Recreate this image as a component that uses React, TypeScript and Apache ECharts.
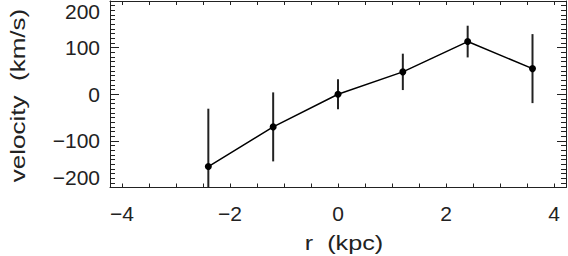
import React, { useEffect, useRef } from "react";
import * as echarts from "echarts";

// ---- data ----
const rValues = [-2.4, -1.2, 0, 1.2, 2.4, 3.6]; // kpc
const velocity = [-155, -70, 0, 48, 113, 55]; // km/s
const velocityErr = [124, 74, 32, 39, 34, 74]; // km/s
const xTickLabels = [-4, -2, 0, 2, 4];
const xTicks = [-4, -3.5, -3, -2.5, -2, -1.5, -1, -0.5, 0, 0.5, 1, 1.5, 2, 2.5, 3, 3.5, 4];
const xRange = [-4.22, 4.22];
const yRange = [-200, 200];
const yInterval = 100;
const xTitle = "r  (kpc)";
const yTitle = "velocity  (km/s)";

const FONT = "Liberation Sans, Arial, Helvetica, sans-serif";
const INK = "#222";

const fmt = (v: number) => String(v).replace("-", "\u2212");

export default function App() {
  const ref = useRef<HTMLDivElement>(null);

  useEffect(() => {
    if (!ref.current) return;
    const chart = echarts.init(ref.current, undefined, { renderer: "svg" });

    const errData = rValues.map((x, i) => [x, velocity[i] - velocityErr[i], velocity[i] + velocityErr[i]]);

    const baseX = {
      type: "value" as const,
      min: xRange[0],
      max: xRange[1],
      splitLine: { show: false },
      axisLine: { show: true, onZero: false, lineStyle: { color: INK, width: 1 } },
      axisTick: { show: true, inside: true, length: 4, customValues: xTicks, lineStyle: { color: INK, width: 1 } },
    };
    const baseY = {
      type: "value" as const,
      min: yRange[0],
      max: yRange[1],
      interval: yInterval,
      splitLine: { show: false },
      axisLine: { show: true, onZero: false, lineStyle: { color: INK, width: 1 } },
      axisTick: { show: true, inside: true, length: 9, lineStyle: { color: INK, width: 1 } },
      minorTick: { show: true, splitNumber: 10, length: 5, lineStyle: { color: INK, width: 1 } },
      minorSplitLine: { show: false },
    };

    chart.setOption({
      animation: false,
      grid: { left: 110, right: 2, top: 1, bottom: 68.5, containLabel: false },
      xAxis: [
        {
          ...baseX,
          position: "bottom",
          axisLabel: {
            show: true,
            customValues: xTickLabels,
            margin: 15,
            fontSize: 21,
            fontFamily: FONT,
            color: INK,
            formatter: fmt,
          },
        },
        { ...baseX, position: "top", axisLabel: { show: false } },
      ],
      yAxis: [
        {
          ...baseY,
          position: "left",
          axisLabel: {
            show: true,
            margin: 10,
            fontSize: 21,
            fontFamily: FONT,
            color: INK,
            formatter: fmt,
            verticalAlignMaxLabel: "top",
            verticalAlignMinLabel: "bottom",
          },
        },
        { ...baseY, position: "right", axisLabel: { show: false } },
      ],
      graphic: [
        {
          type: "text",
          x: 17.5,
          y: 95.5,
          rotation: Math.PI / 2,
          scaleX: 1.24,
          style: {
            text: yTitle,
            fontSize: 21,
            fontFamily: FONT,
            fill: INK,
            align: "center",
            verticalAlign: "middle",
          },
        },
        {
          type: "text",
          x: 344,
          y: 243,
          scaleX: 1.2,
          style: {
            text: xTitle,
            fontSize: 21,
            fontFamily: FONT,
            fill: INK,
            align: "center",
            verticalAlign: "middle",
          },
        },
      ],
      series: [
        {
          type: "custom",
          xAxisIndex: 0,
          yAxisIndex: 0,
          data: errData,
          z: 1,
          renderItem: (params: any, api: any) => {
            const cs = params.coordSys;
            const p1 = api.coord([api.value(0), api.value(1)]);
            const p2 = api.coord([api.value(0), api.value(2)]);
            const clamp = (y: number) => Math.max(cs.y, Math.min(cs.y + cs.height, y));
            return {
              type: "line",
              shape: { x1: p1[0], y1: clamp(p1[1]), x2: p2[0], y2: clamp(p2[1]) },
              style: { stroke: INK, lineWidth: 2 },
            };
          },
        },
        {
          type: "line",
          xAxisIndex: 0,
          yAxisIndex: 0,
          data: rValues.map((x, i) => [x, velocity[i]]),
          symbol: "circle",
          symbolSize: 7,
          showSymbol: true,
          z: 2,
          lineStyle: { color: "#000", width: 1.5 },
          itemStyle: { color: "#000" },
        },
      ],
    });

    return () => chart.dispose();
  }, []);

  return (
    <div
      ref={ref}
      style={{ position: "fixed", left: 0, top: 0, width: 568, height: 256, background: "#fff" }}
    />
  );
}
